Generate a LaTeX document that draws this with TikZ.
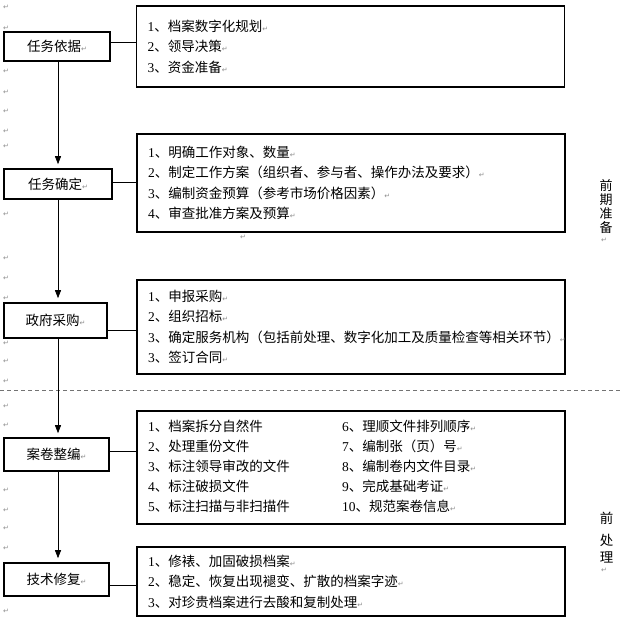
\documentclass[tikz,border=0pt]{standalone}
\usepackage{fontspec}
\setmainfont{Noto Sans CJK SC}
\newfontfamily\latfont{Liberation Serif}
\newfontfamily\retfont{DejaVu Sans}
\usetikzlibrary{arrows.meta}
\newcommand\retmark{{\retfont\fontsize{7}{7}\selectfont\color{black!45}↵}}
\newcommand\nm[1]{{\latfont #1}}
\tikzset{
  lbox/.style={draw, line width=1.6pt, inner sep=0pt, font=\fontsize{13.5}{16}\selectfont},
  rbox/.style={draw, line width=1.6pt, inner xsep=11pt, inner ysep=0pt, text width=406pt,
               align=left, font=\fontsize{13.5}{20.5}\selectfont},
  conn/.style={draw, line width=0.8pt},
  arr/.style={draw, line width=0.8pt, -{Triangle[width=6pt,length=8pt]}, shorten >=4pt},
  mk/.style={inner sep=0pt},
  vlab/.style={inner sep=0pt, align=center}
}
\begin{document}
\begin{tikzpicture}[x=1pt,y=-1pt]
\useasboundingbox (0,0) rectangle (623,622);

% margin paragraph marks
\foreach \yy [count=\i] in {7,28,71,92,111,131,146,214,258,278,298,343,361,381,406,425,490,510,528,548,611}
  \node[mk] (m\i) at (6,\yy) {\retmark};

% dashed separator
\coordinate (dl) at (0,390);
\coordinate (dr) at (623,390);
\draw[black!55, line width=1pt, dash pattern=on 4pt off 3pt] (dl) -- (dr);

% left boxes
\node[lbox, minimum width=106pt, minimum height=29pt] (l1) at (57,46.5) {任务依据\retmark};
\node[lbox, minimum width=108pt, minimum height=30pt] (l2) at (58,184) {任务确定\retmark};
\node[lbox, minimum width=103pt, minimum height=35pt] (l3) at (55.5,320.5) {政府采购\retmark};
\node[lbox, minimum width=105pt, minimum height=33pt] (l4) at (56.5,454.5) {案卷整编\retmark};
\node[lbox, minimum width=105pt, minimum height=33pt] (l5) at (56.5,579.5) {技术修复\retmark};

% right boxes
\node[rbox, minimum height=81pt] (r1) at (350.5,46.5) {%
\nm{1}、档案数字化规划\retmark\\
\nm{2}、领导决策\retmark\\
\nm{3}、资金准备\retmark};
\node[rbox, minimum height=98pt] (r2) at (351,183) {%
\nm{1}、明确工作对象、数量\retmark\\
\nm{2}、制定工作方案（组织者、参与者、操作办法及要求）\retmark\\
\nm{3}、编制资金预算（参考市场价格因素）\retmark\\
\nm{4}、审查批准方案及预算\retmark};
\node[rbox, minimum height=94pt] (r3) at (351,327) {%
\nm{1}、申报采购\retmark\\
\nm{2}、组织招标\retmark\\
\nm{3}、确定服务机构（包括前处理、数字化加工及质量检查等相关环节）\retmark\\
\nm{3}、签订合同\retmark};
\node[rbox, minimum height=113pt, font=\fontsize{13.5}{20}\selectfont] (r4) at (351,467.5) {%
\begin{tabular}{@{}p{194pt}@{}l@{}}
\nm{1}、档案拆分自然件 & \nm{6}、理顺文件排列顺序\retmark\\
\nm{2}、处理重份文件 & \nm{7}、编制张（页）号\retmark\\
\nm{3}、标注领导审改的文件 & \nm{8}、编制卷内文件目录\retmark\\
\nm{4}、标注破损文件 & \nm{9}、完成基础考证\retmark\\
\nm{5}、标注扫描与非扫描件 & \nm{10}、规范案卷信息\retmark
\end{tabular}};
\node[rbox, minimum height=69pt] (r5) at (351,581.5) {%
\nm{1}、修裱、加固破损档案\retmark\\
\nm{2}、稳定、恢复出现褪变、扩散的档案字迹\retmark\\
\nm{3}、对珍贵档案进行去酸和复制处理\retmark};

% horizontal connectors
\coordinate (c1) at (0,42);
\coordinate (c2) at (0,182);
\coordinate (c3) at (0,330);
\coordinate (c4) at (0,451);
\coordinate (c5) at (0,585);
\draw[conn] (l1.east |- c1) -- (r1.west |- c1);
\draw[conn] (l2.east |- c2) -- (r2.west |- c2);
\draw[conn] (l3.east |- c3) -- (r3.west |- c3);
\draw[conn] (l4.east |- c4) -- (r4.west |- c4);
\draw[conn] (l5.east |- c5) -- (r5.west |- c5);

% vertical arrows
\coordinate (ax) at (58,0);
\draw[arr] (l1.south -| ax) -- (l2.north -| ax);
\draw[arr] (l2.south -| ax) -- (l3.north -| ax);
\draw[arr] (l3.south -| ax) -- (l4.north -| ax);
\draw[arr] (l4.south -| ax) -- (l5.north -| ax);

% side labels
\node[vlab, font=\fontsize{13}{14.25}\selectfont] (v1) at (606,206.5) {前\\期\\准\\备};
\node[vlab, font=\fontsize{13.5}{17}\selectfont] (v2) at (606.5,538) {前\\[5pt]处\\理};
\node[mk] (m22) at (604,240) {\retmark};
\node[mk] (m23) at (604,570) {\retmark};
\node[mk] (m24) at (243,237) {\retmark};
\end{tikzpicture}
\end{document}
